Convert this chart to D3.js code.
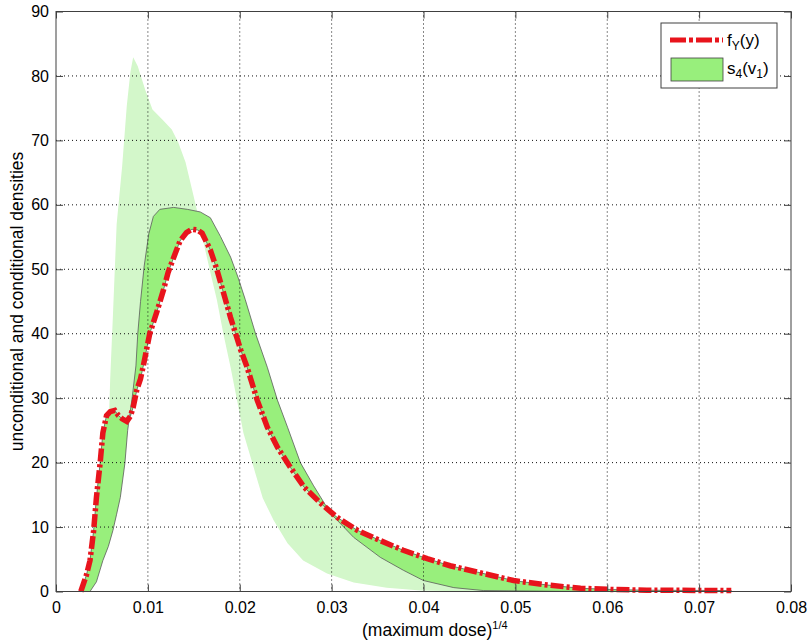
<!DOCTYPE html>
<meta charset="utf-8">
<script src="https://d3js.org/d3.v7.min.js"></script>
<style>
  body { margin: 0; background: #fff; }
  text { font-family: Arial, "Liberation Sans", Helvetica, sans-serif; fill: #000; }
</style>
<div id="my_dataviz"></div>
<script>

// axis ticks
var xTicks = [0, 0.01, 0.02, 0.03, 0.04, 0.05, 0.06, 0.07, 0.08];
var xTickLabels = ["0", "0.01", "0.02", "0.03", "0.04", "0.05", "0.06", "0.07", "0.08"];
var yTicks = [0, 10, 20, 30, 40, 50, 60, 70, 80, 90];

// unconditional density f_Y(y) (red dash-dot)
var fyX = [0.0027, 0.0033, 0.0037, 0.0041, 0.0044, 0.0048, 0.0051, 0.0055, 0.0059, 0.0064, 0.0068, 0.0072, 0.0077,
  0.0081, 0.0084, 0.0088, 0.0092, 0.0095, 0.0102, 0.011, 0.0117, 0.0122, 0.0128, 0.0135, 0.0142, 0.0148, 0.0154,
  0.0159, 0.0168, 0.0175, 0.0182, 0.019, 0.0201, 0.0208, 0.0219, 0.023, 0.0241, 0.0255, 0.027, 0.0288, 0.0306,
  0.0328, 0.0353, 0.0378, 0.0404, 0.0429, 0.0459, 0.0498, 0.0535, 0.0571, 0.0607, 0.0643, 0.0735];
var fyY = [0, 2.5, 4.8, 9.5, 14.6, 19.9, 24.6, 27.3, 27.9, 28.1, 27.3, 26.8, 26.4,
  27.2, 28.6, 31.3, 33.0, 35.0, 40.0, 43.5, 46.8, 49.5, 51.8, 54.4, 55.7, 56.2, 56.1,
  55.6, 53.0, 50.0, 46.5, 42.5, 37.5, 34.8, 29.7, 25.5, 22.4, 19.3, 16.2, 13.7, 11.5,
  9.5, 7.9, 6.4, 5.1, 4.0, 3.0, 1.7, 1.0, 0.5, 0.3, 0.2, 0.15];

// conditional density s4(v1) (dark green band against f_Y)
var s4X = [0.0037, 0.0044, 0.0051, 0.0057, 0.0062, 0.0066, 0.007, 0.0075, 0.0078, 0.0083, 0.0087, 0.0089, 0.0092,
  0.0096, 0.0101, 0.0106, 0.0113, 0.0128, 0.0143, 0.0157, 0.0168, 0.0179, 0.019, 0.0198, 0.0206, 0.0217, 0.023,
  0.0241, 0.0252, 0.0266, 0.028, 0.0299, 0.0324, 0.0353, 0.0378, 0.04, 0.0433, 0.0465, 0.055, 0.0735];
var s4Y = [0, 1.5, 4.8, 7.0, 9.5, 12.0, 14.6, 19.9, 25.0, 30.2, 35.0, 40.0, 45.0,
  50.5, 55.5, 58.2, 59.3, 59.6, 59.3, 58.9, 58.0, 55.1, 51.9, 48.8, 45.3, 40.1, 34.8,
  29.7, 25.5, 20.0, 16.5, 12.1, 8.4, 5.3, 3.3, 1.7, 0.6, 0.15, 0.02, 0];

// other conditional density (light green band against f_Y)
var condX = [0.003, 0.004, 0.0048, 0.0053, 0.0056, 0.0058, 0.0059, 0.0062, 0.0066, 0.0072, 0.0077, 0.0081, 0.0084,
  0.0089, 0.0097, 0.0105, 0.0116, 0.0126, 0.0133, 0.0141, 0.0148, 0.0154, 0.016, 0.0168, 0.0175, 0.0182, 0.019,
  0.0197, 0.0204, 0.0215, 0.0225, 0.0237, 0.0252, 0.0269, 0.0295, 0.0324, 0.036, 0.0397, 0.045, 0.0735];
var condY = [0, 4, 12, 18, 24, 28.5, 33, 43, 57, 66, 75.3, 80.6, 82.9,
  81.5, 77.9, 74.8, 73.2, 71.7, 69.7, 66.6, 62.4, 58.8, 54.5, 49.5, 45.3, 40.1, 34.8,
  29.7, 24.6, 19.3, 14.5, 11.0, 7.5, 4.8, 2.8, 1.4, 0.6, 0.15, 0, 0];

var lightGreen = "#d3f7ca",
    darkGreen = "#98ef7c",
    red = "#e8141c";

// set the dimensions and margins of the graph
var margin = {top: 11.5, right: 17, bottom: 51.5, left: 56},
    width = 808 - margin.left - margin.right,
    height = 643 - margin.top - margin.bottom;

var root = d3.select("#my_dataviz")
  .append("svg")
    .attr("width", 808)
    .attr("height", 643);

root.append("rect").attr("width", 808).attr("height", 643).attr("fill", "#fff");

var svg = root.append("g")
    .attr("transform", "translate(" + margin.left + "," + margin.top + ")");

var x = d3.scaleLinear().domain([0, 0.08]).range([0, width]);
var y = d3.scaleLinear().domain([0, 90]).range([height, 0]);

function pts(xs, ys) {
  return xs.map(function(d, i) { return [x(d), y(ys[i])]; });
}

var fyPts = pts(fyX, fyY);
var line = d3.line();

// filled regions between each conditional density and f_Y
var lightPoly = pts(condX, condY).concat(fyPts.slice().reverse());
svg.append("path")
  .attr("d", line(lightPoly) + "Z")
  .attr("fill", lightGreen)
  .attr("stroke", "none");

var darkPoly = pts(s4X, s4Y).concat(fyPts.slice().reverse());
svg.append("path")
  .attr("d", line(darkPoly) + "Z")
  .attr("fill", darkGreen)
  .attr("stroke", "#5a5a5a")
  .attr("stroke-width", 0.8);

// dotted grid
svg.append("g").selectAll("line.gx")
  .data(xTicks.slice(1, -1))
  .enter().append("line")
    .attr("x1", function(d) { return x(d); })
    .attr("x2", function(d) { return x(d); })
    .attr("y1", 0).attr("y2", height)
    .attr("stroke", "#111").attr("stroke-width", 1)
    .attr("stroke-dasharray", "1,3");
svg.append("g").selectAll("line.gy")
  .data(yTicks.slice(1, -1))
  .enter().append("line")
    .attr("y1", function(d) { return y(d); })
    .attr("y2", function(d) { return y(d); })
    .attr("x1", 0).attr("x2", width)
    .attr("stroke", "#111").attr("stroke-width", 1)
    .attr("stroke-dasharray", "1,3");

// f_Y line
svg.append("path")
  .attr("d", line(fyPts))
  .attr("fill", "none")
  .attr("stroke", red)
  .attr("stroke-width", 5.5)
  .attr("stroke-dasharray", "13,3,3,3");

// axes with inward ticks
svg.append("g")
  .attr("transform", "translate(0," + height + ")")
  .call(d3.axisBottom(x).tickValues(xTicks)
    .tickFormat(function(d, i) { return xTickLabels[i]; })
    .tickSize(-7).tickPadding(10));
svg.append("g")
  .call(d3.axisLeft(y).tickValues(yTicks).tickSize(-7).tickPadding(7));
svg.append("g")
  .call(d3.axisTop(x).tickValues(xTicks).tickSize(-7).tickFormat(""));
svg.append("g")
  .attr("transform", "translate(" + width + ",0)")
  .call(d3.axisRight(y).tickValues(yTicks).tickSize(-7).tickFormat(""));

svg.selectAll(".domain").remove();
svg.selectAll(".tick line").attr("stroke", "#404040");
svg.selectAll(".tick text").style("font-size", "16px")
  .style("font-family", "Arial, 'Liberation Sans', Helvetica, sans-serif");

// box
svg.append("rect")
  .attr("width", width).attr("height", height)
  .attr("fill", "none").attr("stroke", "#404040").attr("stroke-width", 1);

// axis labels
var xl = root.append("text")
  .attr("x", 362).attr("y", 636)
  .style("font-size", "17.5px");
xl.append("tspan").text("(maximum dose)");
xl.append("tspan").attr("dy", -7).style("font-size", "11px").text("1/4");

root.append("text")
  .attr("transform", "translate(23," + (margin.top + height / 2) + ") rotate(-90)")
  .attr("text-anchor", "middle")
  .style("font-size", "17.5px")
  .text("unconditional and conditional densities");

// legend
var leg = root.append("g");
leg.append("rect")
  .attr("x", 661).attr("y", 23).attr("width", 116).attr("height", 65)
  .attr("fill", "#fff").attr("stroke", "#404040").attr("stroke-width", 1);
leg.append("line")
  .attr("x1", 670).attr("x2", 723).attr("y1", 40).attr("y2", 40)
  .attr("stroke", red).attr("stroke-width", 5)
  .attr("stroke-dasharray", "16,3,4,3");
leg.append("rect")
  .attr("x", 671).attr("y", 58).attr("width", 52).attr("height", 23)
  .attr("fill", darkGreen).attr("stroke", "#404040").attr("stroke-width", 0.8);

var t1 = leg.append("text").attr("x", 727).attr("y", 46).style("font-size", "17px");
t1.append("tspan").text("f");
t1.append("tspan").attr("dy", 4).style("font-size", "12px").text("Y");
t1.append("tspan").attr("dy", -4).text("(y)");

var t2 = leg.append("text").attr("x", 727).attr("y", 74).style("font-size", "17px");
t2.append("tspan").text("s");
t2.append("tspan").attr("dy", 4).style("font-size", "12px").text("4");
t2.append("tspan").attr("dy", -4).text("(v");
t2.append("tspan").attr("dy", 4).style("font-size", "12px").text("1");
t2.append("tspan").attr("dy", -4).text(")");

</script>
